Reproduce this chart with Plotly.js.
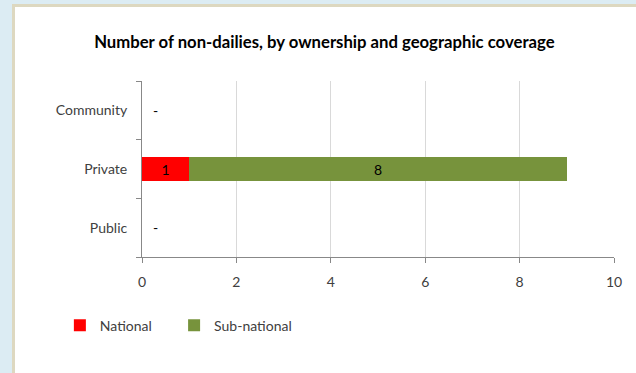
<!DOCTYPE html>
<html>
<head>
<meta charset="utf-8">
<script src="https://cdn.plot.ly/plotly-3.0.1.min.js"></script>
<style>
  html, body { margin: 0; padding: 0; width: 636px; height: 373px; overflow: hidden; background: #dcecf3; }
  #panel { position: absolute; left: 12px; top: 4px; width: 640px; height: 380px; background: #ffffff; border-left: 3px solid #ddd8c0; border-top: 3px solid #ddd8c0; box-sizing: border-box; }
  #chart { position: absolute; left: 0; top: 0; width: 636px; height: 373px; }
</style>
</head>
<body>
<div id="panel"></div>
<div id="chart"></div>
<script>
const categories = ["Public", "Private", "Community"];
const national = [0, 1, 0];
const subNational = [0, 8, 0];
const seriesNames = ["National", "Sub-national"];
const xTicks = [0, 2, 4, 6, 8, 10];
const titleText = "Number of non-dailies, by ownership and geographic coverage";

const FONT = "Lato, Calibri, 'Open Sans', sans-serif";

function labels(vals) { return vals.map(v => v > 0 ? String(v) : ""); }

const traces = [
  { type: "bar", orientation: "h", name: seriesNames[0], y: categories, x: national, legend: "legend",
    marker: { color: "#ff0000" }, text: labels(national), textposition: "inside",
    insidetextanchor: "middle", textfont: { color: "#000000", size: 14, family: FONT }, hoverinfo: "x+y" },
  { type: "bar", orientation: "h", name: seriesNames[1], y: categories, x: subNational, legend: "legend2",
    marker: { color: "#77933c" }, text: labels(subNational), textposition: "inside",
    insidetextanchor: "middle", textfont: { color: "#000000", size: 14, family: FONT }, hoverinfo: "x+y" }
];

const annotations = categories.map((c, i) => (national[i] + subNational[i] === 0) ? {
  x: 0, y: c, xref: "x", yref: "y", text: "-", showarrow: false, xanchor: "left", xshift: 9,
  font: { family: FONT, size: 14, color: "#000000" }
} : null).filter(a => a);

const legendBase = { orientation: "h", xanchor: "left", y: -0.39, yanchor: "middle", itemwidth: 30,
  font: { family: FONT, size: 14, color: "#404040" }, bgcolor: "rgba(0,0,0,0)" };

const layout = {
  width: 636, height: 373,
  margin: { l: 142, r: 22, t: 81, b: 116 },
  paper_bgcolor: "rgba(0,0,0,0)", plot_bgcolor: "#ffffff",
  barmode: "stack", bargap: 0.59,
  title: { text: titleText, x: 0.51, xanchor: "center", y: 0.888, yanchor: "middle",
           font: { family: FONT, size: 16.7, color: "#000000", weight: "bold" } },
  xaxis: { range: [0, 10], tickvals: xTicks, showgrid: true, gridcolor: "#d9d9d9", gridwidth: 1,
           zeroline: false, showline: true, linecolor: "#888888", linewidth: 1,
           ticks: "outside", ticklen: 5, tickcolor: "#888888", ticklabelstandoff: 7,
           tickfont: { family: FONT, size: 14, color: "#404040" }, fixedrange: true },
  yaxis: { type: "category", categoryorder: "array", categoryarray: categories,
           showline: true, linecolor: "#888888", linewidth: 1, showgrid: false,
           ticks: "outside", ticklen: 5, tickcolor: "#888888", tickson: "boundaries",
           ticklabelstandoff: 11,
           tickfont: { family: FONT, size: 14, color: "#404040" }, fixedrange: true },
  showlegend: true,
  legend: Object.assign({}, legendBase, { x: -0.174 }),
  legend2: Object.assign({}, legendBase, { x: 0.068 }),
  annotations: annotations
};

Plotly.newPlot("chart", traces, layout, { displayModeBar: false, staticPlot: true });
</script>
</body>
</html>
